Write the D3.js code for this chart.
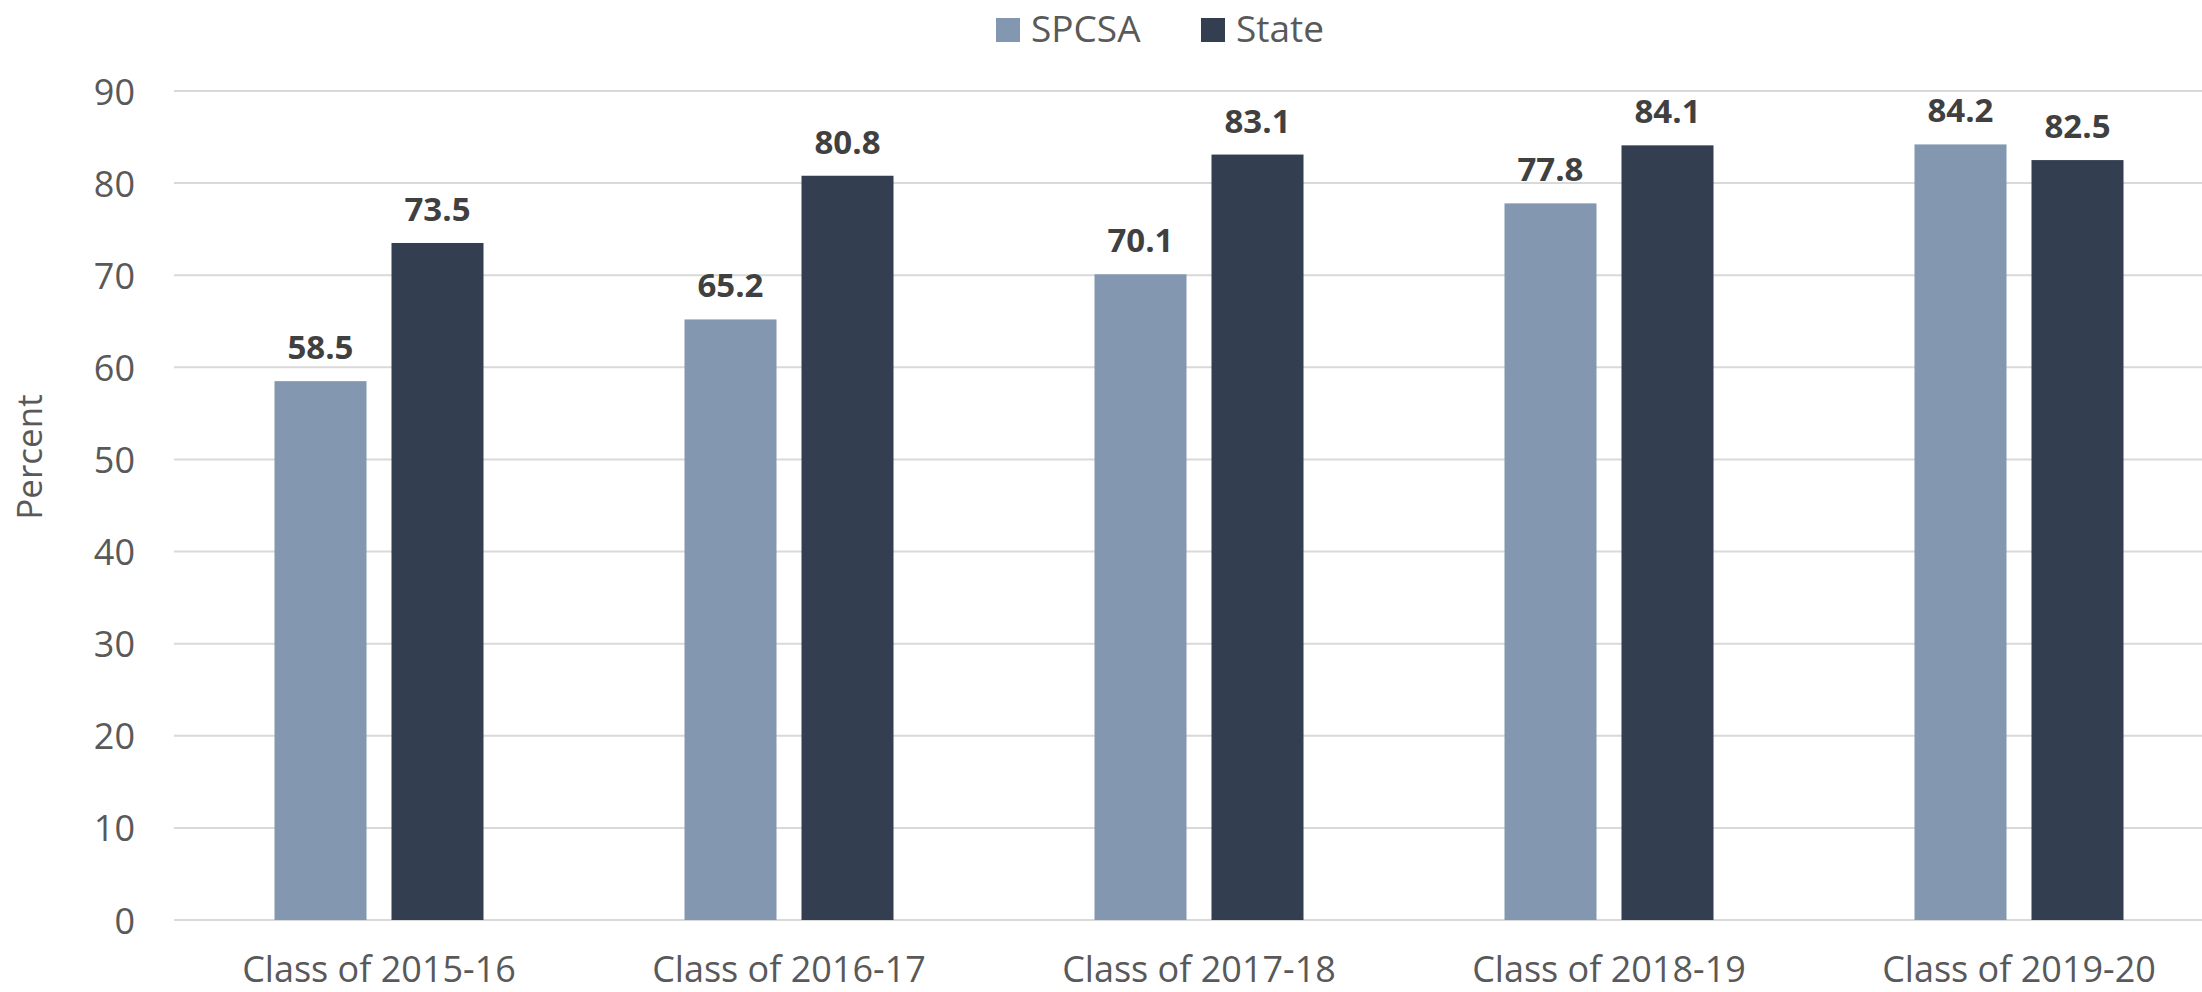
<!DOCTYPE html>
<html>
<head>
<meta charset="utf-8">
<script src="https://cdn.jsdelivr.net/npm/d3@7"></script>
<style>
  html, body { margin: 0; padding: 0; background: #fff; }
  svg { display: block; font-family: "Open Sans", sans-serif; }
</style>
</head>
<body>
<div id="canvas"></div>
<script>
"use strict"

/* Data */
let categories = ["Class of 2015-16", "Class of 2016-17", "Class of 2017-18", "Class of 2018-19", "Class of 2019-20"];
let seriesNames = ["SPCSA", "State"];
let spcsaValues = [58.5, 65.2, 70.1, 77.8, 84.2];
let stateValues = [73.5, 80.8, 83.1, 84.1, 82.5];
let yTicks = [0, 10, 20, 30, 40, 50, 60, 70, 80, 90];

/* Drawing config */
let svgWidth = 2202;
let svgHeight = 992;
let plotLeft = 174;
let plotRight = 2224; // plot runs past the right edge, as in the original
let plotTop = 91;
let plotBottom = 920;
let colors = { "SPCSA": "#8497B0", "State": "#333F50" };

let svg = d3.select("#canvas")
    .append("svg")
    .attr("width", svgWidth)
    .attr("height", svgHeight);

/* Scales */
let x0 = d3.scaleBand()
    .domain(categories)
    .range([plotLeft, plotRight]);

let groupWidth = 209;
let x1 = d3.scaleBand()
    .domain(seriesNames)
    .range([0, groupWidth])
    .paddingInner(0.2137);

let yScale = d3.scaleLinear()
    .domain([0, 90])
    .range([plotBottom, plotTop]);

/* Gridlines */
svg.append("g")
    .selectAll("line")
    .data(yTicks)
    .join("line")
    .attr("x1", plotLeft)
    .attr("x2", plotRight)
    .attr("y1", d => yScale(d))
    .attr("y2", d => yScale(d))
    .attr("stroke", "#d9d9d9")
    .attr("stroke-width", 2);

/* Y tick labels */
svg.append("g")
    .selectAll("text")
    .data(yTicks)
    .join("text")
    .attr("x", 135)
    .attr("y", d => yScale(d))
    .attr("text-anchor", "end")
    .attr("dominant-baseline", "central")
    .attr("font-size", 36)
    .attr("fill", "#595959")
    .text(d => d);

/* Y axis title */
svg.append("text")
    .attr("transform", "translate(42,457) rotate(-90)")
    .attr("text-anchor", "middle")
    .attr("font-size", 35)
    .attr("fill", "#595959")
    .text("Percent");

/* Bars */
let rows = categories.map((c, i) => ({
    category: c,
    values: [
        { series: "SPCSA", value: spcsaValues[i] },
        { series: "State", value: stateValues[i] }
    ]
}));

let groupOffset = (x0.bandwidth() - groupWidth) / 2;

let groups = svg.append("g")
    .selectAll("g")
    .data(rows)
    .join("g")
    .attr("transform", d => "translate(" + (x0(d.category) + groupOffset) + ",0)");

groups.selectAll("rect")
    .data(d => d.values)
    .join("rect")
    .attr("x", d => x1(d.series))
    .attr("y", d => yScale(d.value))
    .attr("width", x1.bandwidth())
    .attr("height", d => yScale(0) - yScale(d.value))
    .attr("fill", d => colors[d.series]);

groups.selectAll("text")
    .data(d => d.values)
    .join("text")
    .attr("x", d => x1(d.series) + x1.bandwidth() / 2)
    .attr("y", d => yScale(d.value) - 22)
    .attr("text-anchor", "middle")
    .attr("font-size", 33)
    .attr("font-weight", "bold")
    .attr("fill", "#404040")
    .text(d => d.value.toFixed(1));

/* Category labels */
svg.append("g")
    .selectAll("text")
    .data(categories)
    .join("text")
    .attr("x", d => x0(d) + x0.bandwidth() / 2)
    .attr("y", 982)
    .attr("text-anchor", "middle")
    .attr("font-size", 36)
    .attr("fill", "#595959")
    .text(d => d);

/* Legend */
let legendX = [996, 1201];
let legend = svg.append("g")
    .selectAll("g")
    .data(seriesNames)
    .join("g")
    .attr("transform", (d, i) => "translate(" + legendX[i] + ",0)");

legend.append("rect")
    .attr("x", 0)
    .attr("y", 18)
    .attr("width", 24)
    .attr("height", 24)
    .attr("fill", d => colors[d]);

legend.append("text")
    .attr("x", 35)
    .attr("y", 42)
    .attr("font-size", 37)
    .attr("fill", "#595959")
    .text(d => d);
</script>
</body>
</html>
